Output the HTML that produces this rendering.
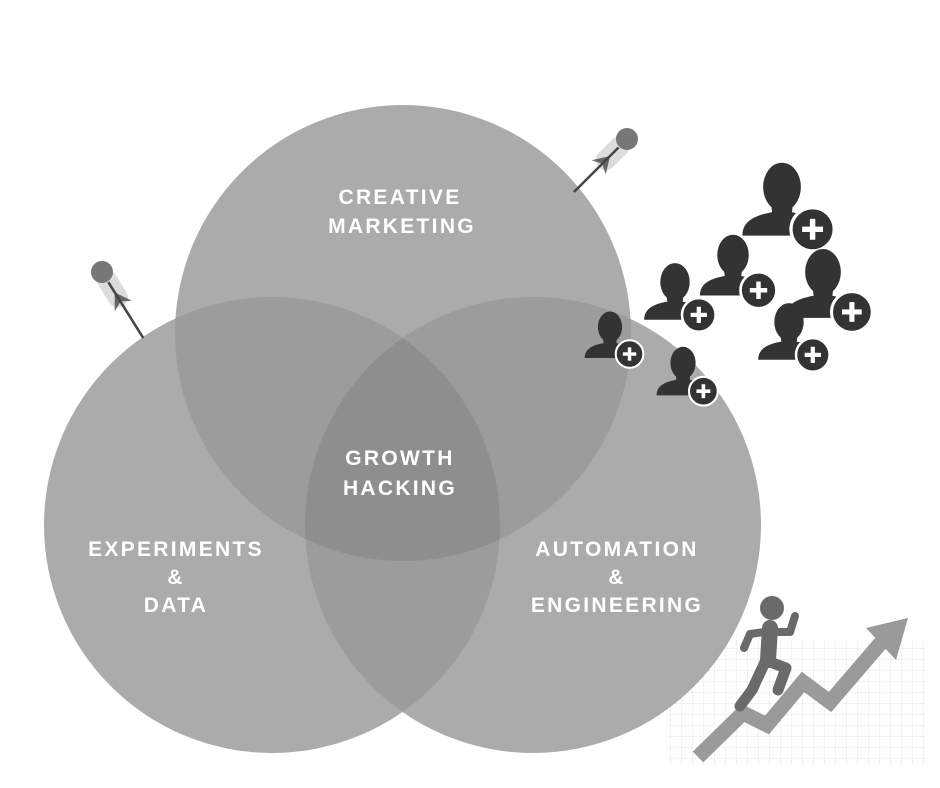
<!DOCTYPE html>
<html><head><meta charset="utf-8"><style>
html,body{margin:0;padding:0;background:#fff;}
svg{display:block;}
text{font-family:"Liberation Sans",sans-serif;font-weight:bold;fill:#fff;font-size:21px;letter-spacing:2.3px;text-anchor:middle;}
</style></head><body>
<svg width="940" height="788" viewBox="0 0 940 788" xmlns="http://www.w3.org/2000/svg">
<defs>
<clipPath id="cT"><circle cx="403" cy="333" r="228"/></clipPath>
<clipPath id="cL"><circle cx="272" cy="525" r="228"/></clipPath>
<clipPath id="cR"><circle cx="533" cy="525" r="228"/></clipPath>
<pattern id="grid" width="11" height="11" patternUnits="userSpaceOnUse"><path d="M11 0V11H0" fill="none" stroke="#e6e6e6" stroke-width="1"/></pattern>
<g id="person">
<ellipse cx="0" cy="0" rx="1.05" ry="1.35" fill="#333"/>
<path d="M-0.6 1.0 L-0.55 1.4 C-1.7 1.6 -2.2 2.0 -2.2 2.7 L1.6 2.7 L1.4 1.6 C1 1.5 0.6 1.4 0.55 1.4 L0.6 1.0 Z" fill="#333"/>
<circle cx="1.7" cy="2.35" r="1.2" fill="#333" stroke="#fff" stroke-width="0.18"/>
<rect x="1.12" y="2.2" width="1.16" height="0.3" fill="#fff"/>
<rect x="1.55" y="1.77" width="0.3" height="1.16" fill="#fff"/>
</g>
</defs>
<rect x="668" y="640" width="257" height="125" fill="url(#grid)"/>
<circle cx="403" cy="333" r="228" fill="#ababab"/>
<circle cx="272" cy="525" r="228" fill="#ababab"/>
<circle cx="533" cy="525" r="228" fill="#ababab"/>
<g clip-path="url(#cT)"><circle cx="272" cy="525" r="228" fill="#9c9c9c"/><circle cx="533" cy="525" r="228" fill="#9c9c9c"/></g>
<g clip-path="url(#cL)"><circle cx="533" cy="525" r="228" fill="#9c9c9c"/></g>
<g clip-path="url(#cT)"><g clip-path="url(#cL)"><circle cx="533" cy="525" r="228" fill="#8e8e8e"/></g></g>
<text x="400" y="204">CREATIVE</text>
<text x="402" y="233">MARKETING</text>
<text x="400" y="465">GROWTH</text>
<text x="400" y="495">HACKING</text>
<text x="176" y="556">EXPERIMENTS</text>
<text x="176" y="584">&amp;</text>
<text x="176" y="612">DATA</text>
<text x="617" y="556">AUTOMATION</text>
<text x="617" y="584">&amp;</text>
<text x="617" y="612">ENGINEERING</text>
<!-- feathers -->
<g transform="translate(627,139) rotate(45)">
<rect x="-10" y="0" width="20" height="40" rx="10" fill="#dcdcdc"/>
<circle cx="0" cy="0" r="11" fill="#777"/>
<path d="M0 24 L-10 40 L0 35 L10 40 Z" fill="#666"/>
<line x1="0" y1="12" x2="0" y2="75" stroke="#444" stroke-width="2.5"/>
</g>
<g transform="translate(102,272) rotate(-32)">
<rect x="-10" y="0" width="20" height="40" rx="10" fill="#dcdcdc"/>
<circle cx="0" cy="0" r="11" fill="#777"/>
<path d="M0 24 L-10 40 L0 35 L10 40 Z" fill="#666"/>
<line x1="0" y1="12" x2="0" y2="78" stroke="#444" stroke-width="2.5"/>
</g>
<!-- people -->
<use href="#person" transform="translate(782,187) scale(18)"/>
<use href="#person" transform="translate(733,255) scale(15)"/>
<use href="#person" transform="translate(675,282) scale(14)"/>
<use href="#person" transform="translate(823,272) scale(17)"/>
<use href="#person" transform="translate(789,322) scale(14)"/>
<use href="#person" transform="translate(610,327) scale(11.5)"/>
<use href="#person" transform="translate(683,363) scale(12)"/>
<!-- arrow -->
<polyline points="698,757 743,713 767,725 803,682 830,702 885,638" fill="none" stroke="#9a9a9a" stroke-width="15" stroke-linejoin="miter"/>
<path d="M908,618 L866,628 L896,660 Z" fill="#9a9a9a"/>
<!-- runner -->
<g stroke="#6a6a6a" stroke-linecap="round" stroke-linejoin="round" fill="none">
<circle cx="772" cy="608" r="12" fill="#6a6a6a" stroke="none"/>
<line x1="770" y1="628" x2="768" y2="660" stroke-width="16"/>
<polyline points="764,632 750,634 744,648" stroke-width="8"/>
<polyline points="778,632 790,632 795,616" stroke-width="8"/>
<polyline points="766,660 752,690 740,706" stroke-width="11"/>
<polyline points="770,662 786,668 778,690" stroke-width="11"/>
</g>
</svg>
</body></html>
